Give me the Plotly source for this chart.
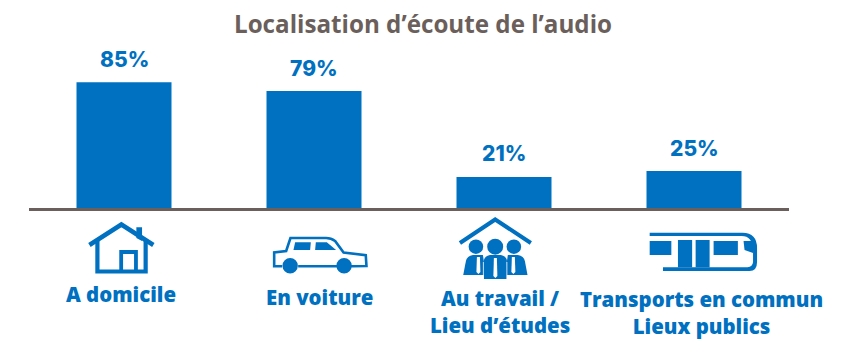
import re
import plotly.graph_objects as go

title = "Localisation d’écoute de l’audio"
categories = ["A domicile", "En voiture", "Au travail /<br>Lieu d’études", "Transports en commun<br>Lieux publics"]
values = [85, 79, 21, 25]
value_labels = ["85%", "79%", "21%", "25%"]

BLUE = "#0070C0"
GREY = "#6B5F5C"
W, H = 850, 351
L, R, T, B = 28.5, 60.5, 60, 143
PW, PH = W - L - R, H - T - B
FONT = "Open Sans"


def to_paper(path):
    """Icon outlines are written in page pixels, converted to paper fractions."""
    toks = re.findall(r"[A-Za-z]|-?\d+\.?\d*", path)
    out, is_x = [], True
    for t in toks:
        if t.isalpha():
            out.append(t)
            is_x = True
        else:
            v = float(t)
            out.append(f"{(v - L) / PW:.5f}" if is_x else f"{(H - B - v) / PH:.5f}")
            is_x = not is_x
    res, i = "", 0
    while i < len(out):
        if out[i].isalpha():
            res += out[i]
            i += 1
        else:
            res += out[i] + "," + out[i + 1] + " "
            i += 2
    return res


def icon_line(path, width, color=BLUE):
    return dict(type="path", xref="paper", yref="paper", path=to_paper(path),
                line=dict(color=color, width=width), fillcolor="rgba(0,0,0,0)", layer="above")


def icon_fill(path, color=BLUE):
    return dict(type="path", xref="paper", yref="paper", path=to_paper(path),
                line=dict(width=0), fillcolor=color, layer="above")


def disc(cx, cy, r, color=BLUE):
    return dict(type="circle", xref="paper", yref="paper",
                x0=(cx - r - L) / PW, x1=(cx + r - L) / PW,
                y0=(H - B - cy - r) / PH, y1=(H - B - cy + r) / PH,
                line=dict(width=0), fillcolor=color, layer="above")


shapes = [
    # house
    icon_fill("M136,232 L136,227.3 L141.7,227.3 L141.7,241 L136,238 Z"),
    icon_line("M89,245 L121,224.5 L153,245", 4.5),
    icon_line("M97,240 L97,271.5 L145.3,271.5 L145.3,240", 4.2),
    icon_line("M120.8,271 L120.8,252 L135.6,252 L135.6,271", 3.8),
    # car
    icon_line("M282,266.3 L274,266.3 L274,252.5 L286,251 L290.3,238 L326,238 "
              "Q331,238 335,241 L343.5,252.5 L365.7,255.2 L366.4,266 L352,266.3 L298,266.3", 2.6),
    icon_fill("M295,242.3 L310.7,242.3 L310,250 L293.3,250 Z"),
    icon_fill("M315.7,242.3 L326.7,242.3 L336,250 L315,250 Z"),
    disc(290, 265.7, 7.7),
    disc(344, 265.7, 7.7),
    # people under a roof
    icon_line("M460,243 L495.3,219.5 L531,243", 4),
    disc(476, 246.7, 7.3), disc(495.3, 246.7, 8), disc(514, 246.7, 7.3),
    icon_fill("M463.3,275 L466,261 Q467,256 473,255 L483,255 L486,275 Z"),
    icon_fill("M527.7,275 L525,261 Q524,256 518,255 L508,255 L505,275 Z"),
    icon_fill("M484,279 L484,260 Q485,256 490,255 L501,255 Q506,256 507,260 L507,279 Z"),
    icon_fill("M477,257 L480,257 L480.5,272 L478.5,274 L476.5,272 Z", "white"),
    icon_fill("M494,258 L497,258 L497.5,276 L495.5,278 L493.5,276 Z", "white"),
    icon_fill("M512,257 L515,257 L515.5,272 L513.5,274 L511.5,272 Z", "white"),
    icon_line("M483.5,262 L483.5,279", 0.8, "white"),
    icon_line("M507,262 L507,279", 0.8, "white"),
    # train
    icon_fill("M650,232.7 L743,232.7 Q757.5,233 757.5,248 L757.5,262 Q757.5,271 750,271 "
              "L663.3,271 L663.3,267.3 L748,267.3 Q753,267 753.5,262 L753.5,250 "
              "Q753,236 742,236 L650,236 Z"),
    icon_fill("M650,241 L671.7,241 L671.7,255 L650,255 Z"),
    icon_fill("M678.3,240 L692.5,240 L692.5,267.3 L678.3,267.3 Z"),
    icon_fill("M696,240 L710,240 L710,267.3 L696,267.3 Z"),
    icon_fill("M714,241 L738.3,241 L738.3,255 L714,255 Z"),
    icon_fill("M744,241 L753.5,241 L753.5,253 L745,250 Z"),
]

label_y = [294, 296.5, 311.5, 312.5]
label_x = [121, 319, 500, 702]

annotations = [
    dict(text=c, x=(lx - L) / PW, y=(H - B - ly) / PH, xref="paper", yref="paper",
         showarrow=False, align="center", xanchor="center", yanchor="middle",
         font=dict(family=FONT, size=20.4, color=BLUE, weight=800))
    for c, lx, ly in zip(categories, label_x, label_y)
] + [
    dict(text=t, x=i, y=v, xref="x", yref="y", yshift=23, showarrow=False,
         xanchor="center", yanchor="middle",
         font=dict(family="Inter", size=21, color=BLUE, weight=800))
    for i, (v, t) in enumerate(zip(values, value_labels))
]

fig = go.Figure(go.Bar(
    x=list(range(len(values))), y=values,
    marker=dict(color=BLUE, line=dict(width=0)),
))
fig.update_layout(
    width=W, height=H, margin=dict(l=L, r=R, t=T, b=B), autosize=False,
    paper_bgcolor="white", plot_bgcolor="white", showlegend=False, bargap=0.5,
    title=dict(text=title, x=423 / W, xanchor="center", y=1 - 25 / H, yanchor="middle",
               font=dict(family=FONT, size=24.2, color=GREY, weight=700)),
    shapes=shapes, annotations=annotations,
)
fig.update_xaxes(range=[-0.5, 3.5], showticklabels=False, ticks="", showgrid=False,
                 zeroline=False, showline=True, linewidth=3, linecolor=GREY)
fig.update_yaxes(range=[0, 100], visible=False, showgrid=False, zeroline=False)
fig.write_html("out.html", config={"displayModeBar": False},
               post_script="document.body.style.margin='0';")
